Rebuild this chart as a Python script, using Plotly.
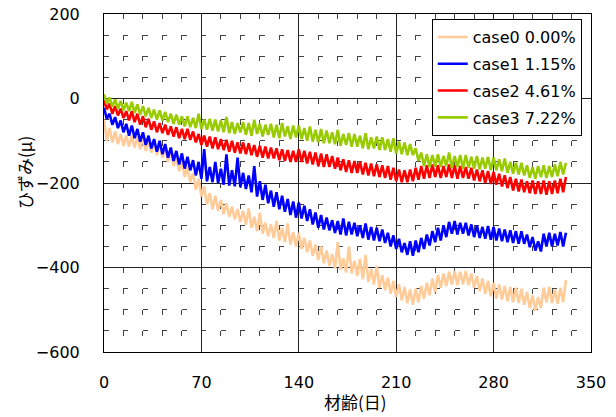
import plotly.graph_objects as go

# days 0..332 step 2
days = list(range(0, 334, 2))

case0 = [
    -50, -100, -70, -104, -78, -108, -84, -112, -88, -114,
    -88, -116, -90, -120, -94, -124, -98, -128, -100, -134,
    -108, -140, -116, -150, -124, -160, -136, -172, -148, -186,
    -160, -198, -176, -216, -190, -232, -208, -250, -224, -262,
    -230, -266, -240, -274, -248, -280, -256, -286, -262, -292,
    -266, -298, -260, -306, -280, -314, -270, -320, -294, -326,
    -298, -330, -290, -336, -306, -340, -296, -346, -316, -350,
    -318, -356, -330, -364, -336, -372, -346, -382, -350, -390,
    -360, -396, -368, -402, -340, -406, -378, -412, -350, -414,
    -384, -420, -380, -428, -370, -434, -404, -440, -396, -448,
    -418, -454, -424, -462, -432, -470, -440, -478, -446, -484,
    -452, -488, -450, -482, -444, -474, -436, -466, -426, -458,
    -418, -448, -414, -444, -410, -440, -408, -442, -410, -440,
    -408, -442, -414, -448, -420, -456, -426, -462, -432, -468,
    -436, -474, -440, -476, -444, -480, -446, -482, -448, -484,
    -450, -488, -458, -496, -466, -502, -470, -496, -448, -482,
    -446, -484, -452, -486, -448, -482, -430,
]

case1 = [
    -22, -48, -36, -62, -44, -70, -52, -80, -60, -88,
    -64, -94, -72, -102, -80, -110, -88, -118, -96, -126,
    -100, -132, -108, -140, -116, -148, -124, -156, -130, -166,
    -138, -170, -146, -182, -150, -190, -120, -196, -162, -198,
    -150, -200, -166, -204, -132, -206, -170, -208, -140, -210,
    -176, -214, -182, -222, -160, -232, -196, -240, -204, -248,
    -218, -256, -222, -262, -230, -268, -238, -276, -244, -282,
    -246, -284, -254, -290, -262, -298, -270, -306, -276, -310,
    -282, -312, -288, -318, -290, -322, -284, -324, -292, -322,
    -294, -326, -300, -330, -296, -334, -304, -336, -306, -338,
    -310, -342, -318, -350, -324, -356, -332, -364, -342, -370,
    -338, -372, -336, -364, -330, -356, -322, -348, -314, -340,
    -306, -336, -300, -328, -292, -320, -290, -322, -294, -320,
    -294, -324, -298, -328, -300, -330, -304, -332, -302, -334,
    -304, -336, -308, -338, -310, -340, -312, -342, -314, -344,
    -314, -344, -322, -352, -328, -360, -338, -362, -320, -350,
    -318, -350, -320, -348, -316, -350, -318,
]

case2 = [
    -4, -26, -12, -36, -18, -40, -24, -46, -30, -52,
    -30, -56, -36, -62, -42, -68, -48, -74, -54, -80,
    -58, -82, -62, -86, -66, -90, -68, -94, -72, -96,
    -72, -98, -78, -104, -84, -110, -88, -114, -90, -118,
    -92, -120, -96, -122, -98, -126, -100, -128, -104, -130,
    -104, -132, -106, -134, -110, -138, -112, -140, -114, -142,
    -116, -142, -118, -146, -120, -148, -122, -150, -124, -150,
    -120, -150, -124, -154, -126, -156, -128, -160, -130, -162,
    -132, -162, -136, -166, -140, -170, -144, -174, -146, -176,
    -148, -176, -150, -180, -152, -182, -154, -184, -156, -186,
    -158, -188, -160, -192, -164, -196, -168, -198, -170, -198,
    -168, -196, -164, -192, -160, -190, -158, -188, -156, -186,
    -158, -188, -160, -186, -156, -188, -158, -190, -160, -188,
    -162, -190, -164, -194, -168, -196, -170, -200, -172, -202,
    -174, -204, -178, -208, -182, -212, -186, -218, -190, -220,
    -192, -222, -196, -224, -194, -226, -196, -226, -194, -228,
    -196, -226, -194, -224, -190, -222, -186,
]

case3 = [
    10, -12, 2, -20, -2, -24, -6, -28, -10, -30,
    -8, -34, -14, -38, -18, -42, -22, -46, -26, -50,
    -28, -52, -32, -56, -36, -60, -38, -62, -42, -66,
    -42, -68, -46, -70, -36, -72, -50, -74, -48, -76,
    -50, -78, -52, -80, -44, -82, -56, -84, -58, -80,
    -56, -86, -58, -88, -50, -84, -60, -90, -62, -86,
    -60, -92, -62, -94, -58, -90, -66, -96, -64, -92,
    -64, -96, -70, -100, -66, -102, -74, -104, -72, -106,
    -76, -106, -80, -108, -74, -112, -84, -110, -82, -114,
    -84, -114, -88, -118, -82, -120, -92, -118, -90, -122,
    -92, -122, -96, -126, -94, -130, -102, -132, -104, -134,
    -108, -134, -118, -148, -128, -160, -132, -162, -134, -160,
    -132, -162, -136, -160, -128, -164, -136, -162, -134, -166,
    -134, -164, -138, -166, -136, -168, -140, -166, -138, -170,
    -140, -170, -144, -172, -142, -176, -150, -178, -152, -180,
    -152, -182, -158, -188, -162, -190, -160, -186, -158, -188,
    -160, -186, -156, -184, -150, -180, -152,
]

names = ["case0 0.00%", "case1 1.15%", "case2 4.61%", "case3 7.22%"]
colors = ["#FFCC99", "#0000FF", "#FF0000", "#99CC00"]
series = [case0, case1, case2, case3]

x_ticks = [0, 70, 140, 210, 280, 350]
y_ticks = [-600, -400, -200, 0, 200]

fig = go.Figure()
for i, (name, col, ys) in enumerate(zip(names, colors, series)):
    fig.add_trace(go.Scatter(x=days, y=ys, mode="lines", name=name,
                             legendgroup="g%d" % i,
                             line=dict(color=col, width=2.6)))

num_font = dict(family="DejaVu Sans, sans-serif", size=16, color="black")
cjk_font = dict(family="Noto Sans CJK JP, sans-serif", size=17, color="black")

fig.update_layout(
    width=616, height=417,
    margin=dict(l=104, r=25, t=14, b=65, autoexpand=False),
    paper_bgcolor="white", plot_bgcolor="white",
    font=num_font,
    showlegend=True,
    legend=dict(x=0.981, y=0.985, xanchor="right", yanchor="top",
                bgcolor="white", bordercolor="black", borderwidth=1,
                font=num_font, tracegroupgap=3),
    xaxis=dict(range=[0, 350], tickvals=x_ticks, ticktext=[str(v) for v in x_ticks],
               showline=True, mirror=True, linecolor="black", linewidth=1,
               showgrid=True, gridcolor="#222", gridwidth=1,
               zeroline=False, ticks="", ticklabelstandoff=16,
               tickfont=num_font, automargin=False,
               minor=dict(dtick=14, tick0=0, showgrid=True, gridcolor="#444",
                          gridwidth=1, griddash="5px,16.125px")),
    yaxis=dict(range=[-600, 200], tickvals=y_ticks,
               ticktext=[str(v).replace("-", "−") for v in y_ticks],
               showline=True, mirror=True, linecolor="black", linewidth=1,
               showgrid=True, gridcolor="#222", gridwidth=1,
               zeroline=False, ticks="", ticklabelstandoff=20,
               tickfont=num_font, automargin=False,
               minor=dict(dtick=50, tick0=0, showgrid=True, gridcolor="#444",
                          gridwidth=1, griddash="5px,14.48px")),
    annotations=[
        dict(text="材齢(日)", xref="paper", yref="paper", x=0.517, y=-0.145,
             showarrow=False, font=cjk_font, xanchor="center", yanchor="middle"),
        dict(text="ひずみ(μ)", xref="paper", yref="paper", x=-0.162, y=0.53,
             showarrow=False, font=cjk_font, textangle=-90,
             xanchor="center", yanchor="middle"),
    ],
)

fig.write_html("out.html")
